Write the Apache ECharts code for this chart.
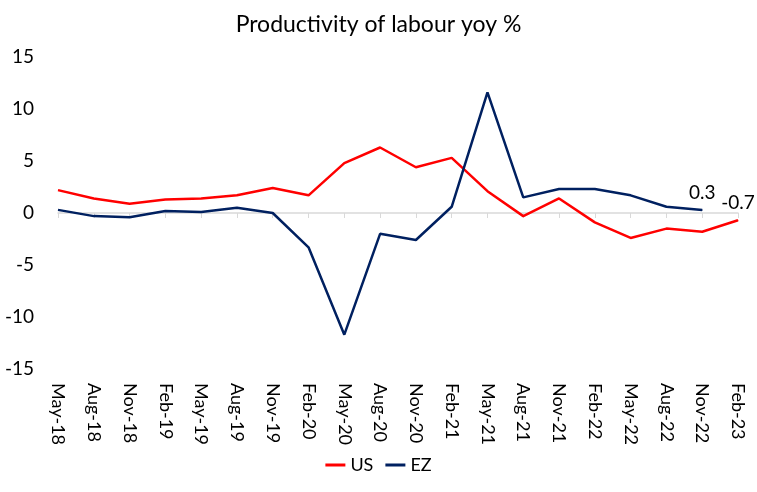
<!DOCTYPE html>
<html><head><meta charset="utf-8">
<script src="https://cdn.jsdelivr.net/npm/echarts@6/dist/echarts.min.js"></script>
<style>html,body{margin:0;padding:0;background:#fff}#c{width:757px;height:492px}</style>
</head><body><div id="c"></div>
<script>
const categories = ['May-18','Aug-18','Nov-18','Feb-19','May-19','Aug-19','Nov-19','Feb-20','May-20','Aug-20','Nov-20','Feb-21','May-21','Aug-21','Nov-21','Feb-22','May-22','Aug-22','Nov-22','Feb-23'];
const usValues = [2.2,1.4,0.9,1.3,1.4,1.7,2.4,1.7,4.8,6.3,4.4,5.3,2.1,-0.3,1.4,-0.9,-2.4,-1.5,-1.8,-0.7];
const ezValues = [0.3,-0.3,-0.4,0.2,0.1,0.5,0.0,-3.3,-11.7,-2.0,-2.6,0.6,11.6,1.5,2.3,2.3,1.7,0.6,0.3,null];
const yTicks = {min:-15, max:15, interval:5};
const font = 'Lato, "Open Sans", sans-serif';
const lastLabel = (arr, color) => {
  let last = -1; arr.forEach((x,j)=>{ if(x!==null) last=j; });
  return arr.map((v,i)=> i===last ? {value:v, symbol:'circle', symbolSize:1,
    itemStyle:{color:color},
    label:{show:true, position:'top', distance:7, fontSize:19, color:'#000', fontFamily:font, formatter:(p)=>String(p.value)}} : v);
};
const grid = {left:58, right:19, top:57, bottom:123};
const chart = echarts.init(document.getElementById('c'), null, {renderer:'canvas'});
chart.setOption({
  animation:false,
  textStyle:{fontFamily:font},
  title:{text:'Productivity of labour yoy %', left:'center', top:8, textStyle:{fontSize:23, fontWeight:'normal', color:'#000', fontFamily:font}},
  legend:{bottom:13, left:'center', icon:'rect', itemWidth:20, itemHeight:3, itemGap:12,
    textStyle:{fontSize:18, color:'#000', fontFamily:font}, data:['US','EZ']},
  grid:[Object.assign({}, grid), Object.assign({}, grid)],
  xAxis:[
    {type:'category', data:categories, boundaryGap:false, position:'bottom', gridIndex:0,
     axisLine:{show:false}, axisTick:{show:false},
     axisLabel:{rotate:-90, fontSize:18, color:'#000', margin:14, interval:0, fontFamily:font}},
    {type:'category', data:categories, boundaryGap:false, gridIndex:1, position:'bottom',
     axisLine:{show:true, onZero:true, lineStyle:{color:'#d9d9d9', width:1.5}},
     axisTick:{show:true, length:5, interval:0, lineStyle:{color:'#d9d9d9'}},
     axisLabel:{show:false}}
  ],
  yAxis:[
    {type:'value', gridIndex:0, min:yTicks.min, max:yTicks.max, interval:yTicks.interval,
     axisLine:{show:false}, axisTick:{show:false}, splitLine:{show:false},
     axisLabel:{fontSize:19, color:'#000', margin:24, fontFamily:font}},
    {type:'value', gridIndex:1, min:yTicks.min, max:yTicks.max, interval:yTicks.interval,
     axisLine:{show:false}, axisTick:{show:false}, splitLine:{show:false}, axisLabel:{show:false}}
  ],
  series:[
    {name:'US', type:'line', xAxisIndex:0, yAxisIndex:0, data:lastLabel(usValues,'#ff0000'), symbol:'none', showSymbol:true,
     lineStyle:{color:'#ff0000', width:2.5}, itemStyle:{color:'#ff0000'}, z:3},
    {name:'EZ', type:'line', xAxisIndex:0, yAxisIndex:0, data:lastLabel(ezValues,'#002060'), symbol:'none', showSymbol:true,
     lineStyle:{color:'#002060', width:2.5}, itemStyle:{color:'#002060'}, z:3}
  ]
});
</script></body></html>
